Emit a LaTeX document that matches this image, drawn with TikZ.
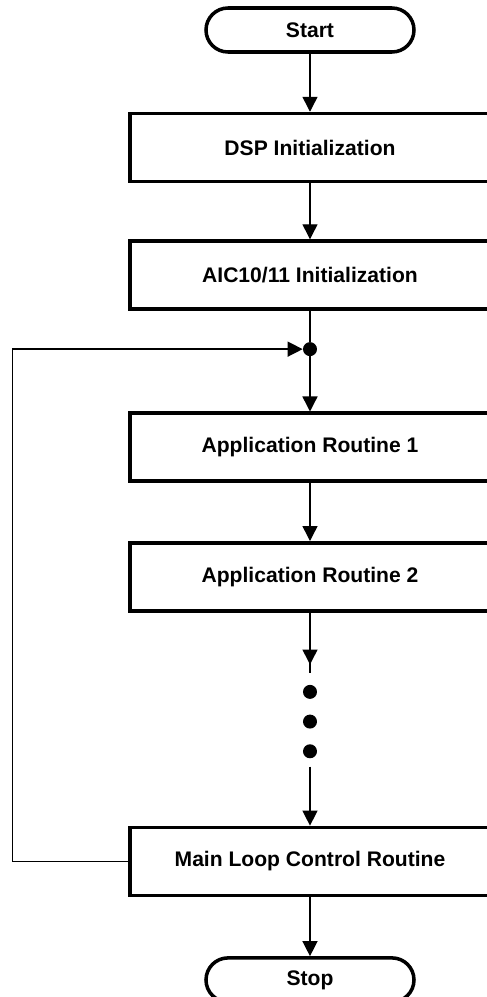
\documentclass[tikz,border=0pt]{standalone}
\usepackage{fontspec}
\setmainfont{Liberation Sans}
\usetikzlibrary{positioning, arrows.meta}

\begin{document}
\begin{tikzpicture}[
  % Node Styles
  termnode/.style={rectangle, rounded corners=0.44cm, draw, line width=2pt, minimum height=0.88cm, minimum width=4.16cm, align=center, font=\fontsize{12}{14}\selectfont\bfseries},
  procnode/.style={rectangle, draw, line width=2pt, minimum height=1.36cm, minimum width=7.2cm, align=center, font=\fontsize{12}{14}\selectfont\bfseries},
  dotnode/.style={circle, fill=black, inner sep=0pt, minimum size=0.28cm},
  % Arrow Styles
  link/.style={line width=0.8pt},
  arrowline/.style={-{Triangle[length=0.3cm, width=0.3cm]}, line width=0.8pt}
]
\useasboundingbox (-6.2,0.6) rectangle (3.54,-19.34);

% Nodes
\node[termnode] (Start) at (0,0) {Start};
\node[procnode, below=1.16cm of Start] (DSPInit) {DSP Initialization};
\node[procnode, below=1.12cm of DSPInit] (AICInit) {AIC10/11 Initialization};
\node[dotnode, below=0.62cm of AICInit] (Junction) {};
\node[procnode, below=1.1cm of Junction] (AppOne) {Application Routine 1};
\node[procnode, below=1.16cm of AppOne] (AppTwo) {Application Routine 2};
\node[dotnode, below=1.44cm of AppTwo] (DotA) {};
\node[dotnode, below=0.3cm of DotA] (DotB) {};
\node[dotnode, below=0.3cm of DotB] (DotC) {};
\node[procnode, below=1.34cm of DotC] (MainLoop) {Main Loop Control Routine};
\node[termnode, below=1.18cm of MainLoop] (Stop) {Stop};

% Helper coordinates
\coordinate[above=0.24cm of DotA] (DotsIn);
\coordinate[below=0.16cm of DotC] (DotsOut);
\coordinate[left=5.8cm of Junction] (LoopLeft);

% Arrows
\draw[arrowline] (Start) -- (DSPInit);
\draw[arrowline] (DSPInit) -- (AICInit);
\draw[link] (AICInit) -- (Junction);
\draw[arrowline] (Junction) -- (AppOne);
\draw[arrowline] (AppOne) -- (AppTwo);
\draw[link] (AppTwo) -- (DotsIn);
\draw[arrowline, shorten >=0.16cm] (AppTwo) -- (DotsIn); % tip sits above the end of the line
\draw[arrowline] (DotsOut) -- (MainLoop);
\draw[arrowline] (MainLoop) -- (Stop);
\draw[arrowline] (MainLoop.west) -| (LoopLeft) -- (Junction.west); % loop back

\end{tikzpicture}
\end{document}
